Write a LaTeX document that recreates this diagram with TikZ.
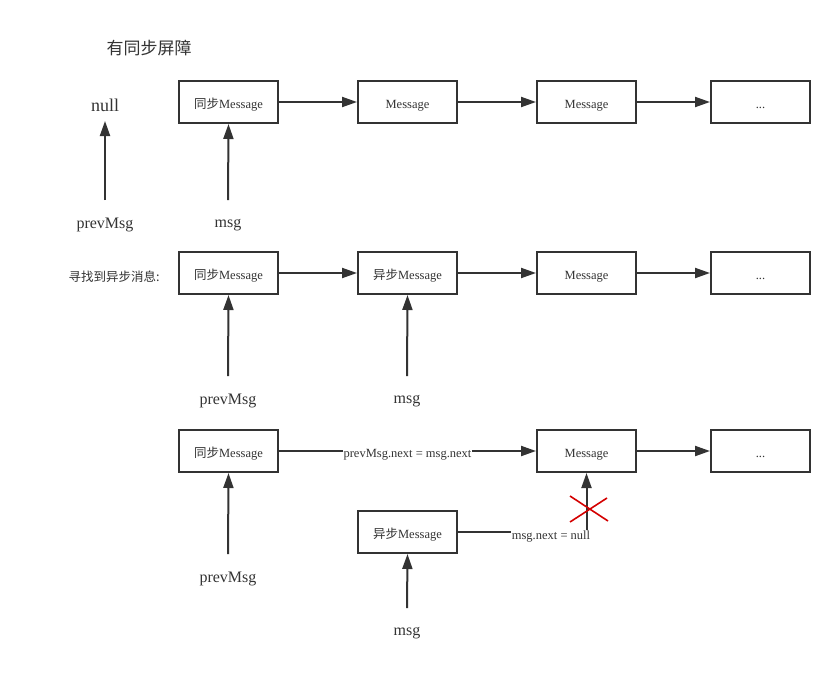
\documentclass[tikz,border=0pt]{standalone}
\usepackage{fontspec}
\setmainfont{Liberation Serif}
\newfontfamily\cjk{Noto Sans CJK SC}
\usetikzlibrary{arrows.meta}
\definecolor{ink}{HTML}{333333}
\definecolor{xred}{HTML}{D40000}
\tikzset{
  box/.style={draw=ink, line width=2pt, minimum width=99pt, minimum height=42pt, inner sep=0pt, text height=12.5pt, text depth=0pt, font=\fontsize{12.5}{14}\selectfont, text=ink},
  conn/.style={draw=ink, line width=2pt, -{Triangle[length=15pt,width=10pt]}},
  lbl/.style={text=ink, inner sep=0pt},
  big/.style={lbl, font=\fontsize{16}{18}\selectfont},
  edgelbl/.style={lbl, fill=white, inner sep=1pt, font=\fontsize{12.5}{14}\selectfont}
}
\begin{document}
\begin{tikzpicture}[x=1pt,y=-1pt]
\useasboundingbox[fill=white] (0,0) rectangle (835,673);
% title
\node[lbl, font=\fontsize{17}{20}\selectfont] (title) at (149,48) {\cjk 有同步屏障};
% row 1
\node[lbl, font=\fontsize{18}{20}\selectfont] (null) at (105,105) {null};
\node[box] (a1) at (228.5,102) {{\cjk 同步}Message};
\node[box] (b1) at (407.5,102) {Message};
\node[box] (c1) at (586.5,102) {Message};
\node[box] (d1) at (760.5,102) {...};
\draw[conn] (a1) -- (b1);
\draw[conn] (b1) -- (c1);
\draw[conn] (c1) -- (d1);
\node[big] (pm1) at (105,225) {prevMsg};
\node[big] (m1) at (228,225) {msg};
\coordinate (pm1t) at (105,200);
\coordinate (m1t) at (228,200);
\draw[conn] (pm1t) -- (105,121);
\draw[conn] (m1t) -- (a1.south);
% row 2
\node[lbl, font=\fontsize{12.5}{14}\selectfont] (find) at (114,277) {\cjk 寻找到异步消息:};
\node[box] (a2) at (228.5,273) {{\cjk 同步}Message};
\node[box] (b2) at (407.5,273) {{\cjk 异步}Message};
\node[box] (c2) at (586.5,273) {Message};
\node[box] (d2) at (760.5,273) {...};
\draw[conn] (a2) -- (b2);
\draw[conn] (b2) -- (c2);
\draw[conn] (c2) -- (d2);
\node[big] (pm2) at (228,401) {prevMsg};
\node[big] (m2) at (407,401) {msg};
\coordinate (pm2t) at (228,376);
\coordinate (m2t) at (407,376);
\draw[conn] (pm2t) -- (a2.south);
\draw[conn] (m2t) -- (b2.south);
% row 3
\node[box] (a3) at (228.5,451) {{\cjk 同步}Message};
\node[box] (c3) at (586.5,451) {Message};
\node[box] (d3) at (760.5,451) {...};
\node[box] (b3) at (407.5,532) {{\cjk 异步}Message};
\draw[conn] (a3) -- node[edgelbl, pos=0.5, yshift=-4pt] (l1) {prevMsg.next = msg.next} (c3);
\draw[conn] (c3) -- (d3);
\draw[conn] (b3.east) -| (c3.south);
\node[edgelbl] (l2) at (551,537) {msg.next = null};
\node[big] (pm3) at (228,579) {prevMsg};
\node[big] (m3) at (407,633) {msg};
\coordinate (pm3t) at (228,554);
\coordinate (m3t) at (407,608);
\draw[conn] (pm3t) -- (a3.south);
\draw[conn] (m3t) -- (b3.south);
% red cross
\coordinate (x1) at (570,496);
\coordinate (x2) at (608,521);
\coordinate (x3) at (570,522);
\coordinate (x4) at (607,498);
\draw[xred, line width=1.6pt] (x1) -- (x2);
\draw[xred, line width=1.6pt] (x3) -- (x4);
\end{tikzpicture}
\end{document}
